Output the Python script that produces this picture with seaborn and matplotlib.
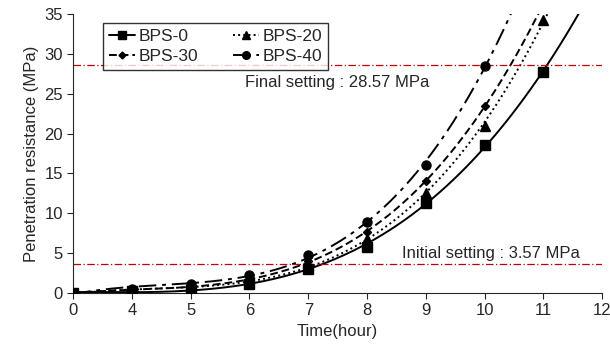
import numpy as np
import seaborn as sns
import matplotlib.pyplot as plt
from matplotlib.lines import Line2D

# time labels (hours) - the axis places them evenly
hours = [0, 4, 5, 6, 7, 8, 9, 10, 11]
tick_labels = ["0", "4", "5", "6", "7", "8", "9", "10", "11", "12"]

bps0 = [0, 0.2, 0.4, 1.1, 3.0, 5.8, 11.3, 18.6, 27.7]
bps20 = [0, 0.3, 0.6, 1.3, 3.6, 6.8, 12.6, 21.0, 34.2]
bps30 = [0, 0.35, 0.8, 1.6, 4.0, 7.7, 14.0, 23.4]
bps40 = [0, 0.5, 1.1, 2.2, 4.8, 8.95, 16.0, 28.5]

final_set = 28.57
init_set = 3.57

sns.set_style("ticks")
plt.rcParams['font.family'] = ['Liberation Sans', 'DejaVu Sans']

fig, ax = plt.subplots(figsize=(6.1, 3.52), dpi=100)
fig.subplots_adjust(left=0.12, right=0.987, top=0.96, bottom=0.168)

series = [
    ("BPS-0", bps0, "-", "s", 6.5),
    ("BPS-20", bps20, ":", "^", 6.5),
    ("BPS-30", bps30, (0, (4, 2)), "D", 4.5),
    ("BPS-40", bps40, (0, (9, 3, 2, 3)), "o", 6.5),
]

handles = {}
for name, vals, ls, mk, ms in series:
    pos = np.arange(len(vals))
    coef = np.polyfit(pos, vals, 3)
    pf = np.linspace(0, 9, 300)
    sns.lineplot(x=pf, y=np.polyval(coef, pf), ax=ax, color="black",
                 linestyle=ls, linewidth=1.4)
    ax.plot(pos, vals, linestyle="none", marker=mk, markersize=ms,
            color="black", zorder=3)
    handles[name] = Line2D([], [], color="black", linestyle=ls, linewidth=1.4,
                           marker=mk, markersize=ms - 1, label=name)

ax.axhline(final_set, color="#c00000", linestyle=(0, (6, 2, 1, 2)), linewidth=0.9)
ax.axhline(init_set, color="#c00000", linestyle=(0, (6, 2, 1, 2)), linewidth=0.9)
ax.text(2.93, 26.4, "Final setting : 28.57 MPa", fontsize=12, va="center")
ax.text(5.6, 4.9, "Initial setting : 3.57 MPa", fontsize=12, va="center")

ax.set_xlim(0, 9)
ax.set_ylim(0, 35)
ax.set_xticks(range(10))
ax.set_xticklabels(tick_labels)
ax.set_yticks(range(0, 36, 5))
ax.tick_params(labelsize=12, length=4, width=0.8)
ax.set_xlabel("Time(hour)", fontsize=12)
ax.set_ylabel("Penetration resistance (MPa)", fontsize=12)
sns.despine(ax=ax)

order = ["BPS-0", "BPS-30", "BPS-20", "BPS-40"]
leg = ax.legend(handles=[handles[k] for k in order], ncol=2, loc="upper left",
                bbox_to_anchor=(0.04, 1.0), fontsize=12.5, frameon=True,
                fancybox=False, edgecolor="black", handlelength=1.5,
                columnspacing=2.0, borderpad=0.35, labelspacing=0.3,
                handletextpad=0.2)
leg.get_frame().set_linewidth(1.0)

fig.savefig("out.png", dpi=100)
